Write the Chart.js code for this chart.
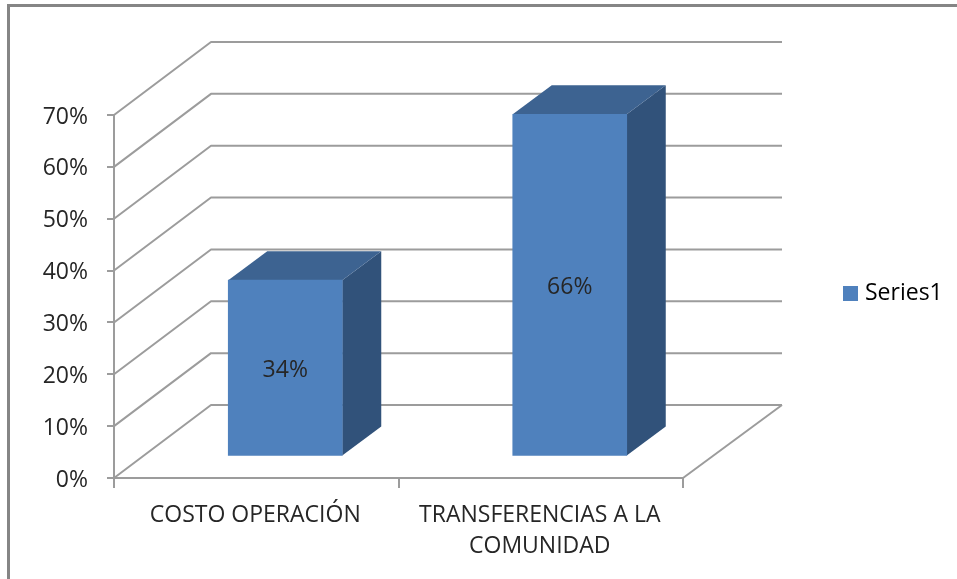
<!DOCTYPE html>
<html>
<head>
<meta charset="utf-8">
<style>
html,body{margin:0;padding:0;background:#fff;overflow:hidden}
#frame{position:absolute;left:7px;top:4px;right:0;bottom:0;border-top:3px solid #858585;border-left:3px solid #858585}
canvas{position:absolute;left:0;top:0;filter:blur(0.5px)}
</style>
<script src="https://cdn.jsdelivr.net/npm/chart.js@4"></script>
</head>
<body>
<div id="frame"></div>
<canvas id="c" width="957" height="579"></canvas>
<script>
const categories = ["COSTO OPERACIÓN", ["TRANSFERENCIAS A LA", "COMUNIDAD"]];
const seriesName = "Series1";
const seriesValues = [34, 66];
const dataLabels = ["34%", "66%"];

const FRONT = "#4f81bd", SIDE = "#31527a", TOP = "#3d6391", LINE = "#9c9c9c", TEXT = "#262626";
const FONT = "'Open Sans', sans-serif";

const wall = {dx: 97, dy: 73};      // depth of the floor
const barShift = {dx: 29, dy: 21.5};  // bars stand inside the floor
const barDepth = {dx: 39, dy: 29};

const plugin3d = {
  id: "plugin3d",
  afterLayout(chart) {
    const l = chart.legend;
    l.left = 847.5 - 12; l.right = l.left + l.width;
    l.top = 293.5 - 40; l.bottom = 293.5 + 40;
    l.adjustHitBoxes();
  },
  beforeDatasetsDraw(chart) {
    const {ctx, scales: {x, y}, chartArea: a} = chart;
    ctx.save();
    ctx.strokeStyle = LINE;
    ctx.lineWidth = 2;
    ctx.lineJoin = "round";
    y.ticks.forEach(t => {
      const py = y.getPixelForValue(t.value);
      ctx.beginPath();
      ctx.moveTo(a.left, py);
      ctx.lineTo(a.left + wall.dx, py - wall.dy);
      ctx.lineTo(a.right + wall.dx + 2, py - wall.dy);
      ctx.stroke();
    });
    const p0 = y.getPixelForValue(0);
    ctx.beginPath();
    ctx.moveTo(a.right + wall.dx + 2, p0 - wall.dy);
    ctx.lineTo(a.right, p0);
    ctx.stroke();

    chart.getDatasetMeta(0).data.forEach(b => {
      const r = b.x + b.width / 2 + barShift.dx;
      const l = b.x - b.width / 2 + barShift.dx;
      const t = b.y - barShift.dy;
      const bot = b.base - barShift.dy;
      ctx.fillStyle = SIDE;
      ctx.beginPath();
      ctx.moveTo(r, t);
      ctx.lineTo(r + barDepth.dx, t - barDepth.dy);
      ctx.lineTo(r + barDepth.dx, bot - barDepth.dy);
      ctx.lineTo(r, bot);
      ctx.closePath();
      ctx.fill();
      ctx.fillStyle = TOP;
      ctx.beginPath();
      ctx.moveTo(l, t);
      ctx.lineTo(l + barDepth.dx, t - barDepth.dy);
      ctx.lineTo(r + barDepth.dx, t - barDepth.dy);
      ctx.lineTo(r, t);
      ctx.closePath();
      ctx.fill();
    });
    ctx.restore();
    ctx.save();
    ctx.translate(barShift.dx, -barShift.dy);
  },
  afterDatasetsDraw(chart) {
    const {ctx} = chart;
    ctx.restore();
    ctx.save();
    ctx.fillStyle = TEXT;
    ctx.font = "23px " + FONT;
    ctx.textAlign = "center";
    ctx.textBaseline = "middle";
    chart.getDatasetMeta(0).data.forEach((b, i) => {
      ctx.fillText(dataLabels[i], b.x + barShift.dx, (b.y + b.base) / 2 - barShift.dy + 3);
    });
    ctx.restore();
  }
};

new Chart(document.getElementById("c"), {
  type: "bar",
  data: {
    labels: categories,
    datasets: [{
      label: seriesName,
      data: seriesValues,
      backgroundColor: FRONT,
      borderWidth: 0,
      barThickness: 114,
      clip: false
    }]
  },
  options: {
    responsive: false,
    animation: false,
    layout: {padding: {left: 10, right: 274, top: 115, bottom: 0}},
    plugins: {
      tooltip: {enabled: false},
      legend: {
        position: "chartArea",
        align: "center",
        labels: {
          boxWidth: 6,
          boxHeight: 6,
          padding: 12,
          color: TEXT,
          font: {family: FONT, size: 23},
          generateLabels: () => [{
            text: seriesName, fillStyle: FRONT, strokeStyle: FRONT, lineWidth: 9, lineJoin: "miter", datasetIndex: 0, hidden: false
          }]
        }
      }
    },
    scales: {
      x: {
        type: "category",
        offset: true,
        afterFit: s => { s.height = 579 - 478; },
        border: {color: LINE, width: 2},
        grid: {display: true, drawOnChartArea: false, drawTicks: true, tickLength: 10, color: LINE, lineWidth: 2, offset: true},
        ticks: {color: TEXT, font: {family: FONT, size: 23, lineHeight: 1.35}, padding: 12, labelOffset: -1, maxRotation: 0, autoSkip: false}
      },
      y: {
        min: 0,
        max: 70,
        afterFit: s => { s.width = 114 - 10; },
        border: {color: LINE, width: 2},
        grid: {display: true, drawOnChartArea: false, drawTicks: true, tickLength: 7, color: LINE, lineWidth: 2},
        ticks: {stepSize: 10, color: TEXT, font: {family: FONT, size: 23}, padding: 19, labelOffset: 2, callback: v => v + "%"}
      }
    }
  },
  plugins: [plugin3d]
});
</script>
</body>
</html>
